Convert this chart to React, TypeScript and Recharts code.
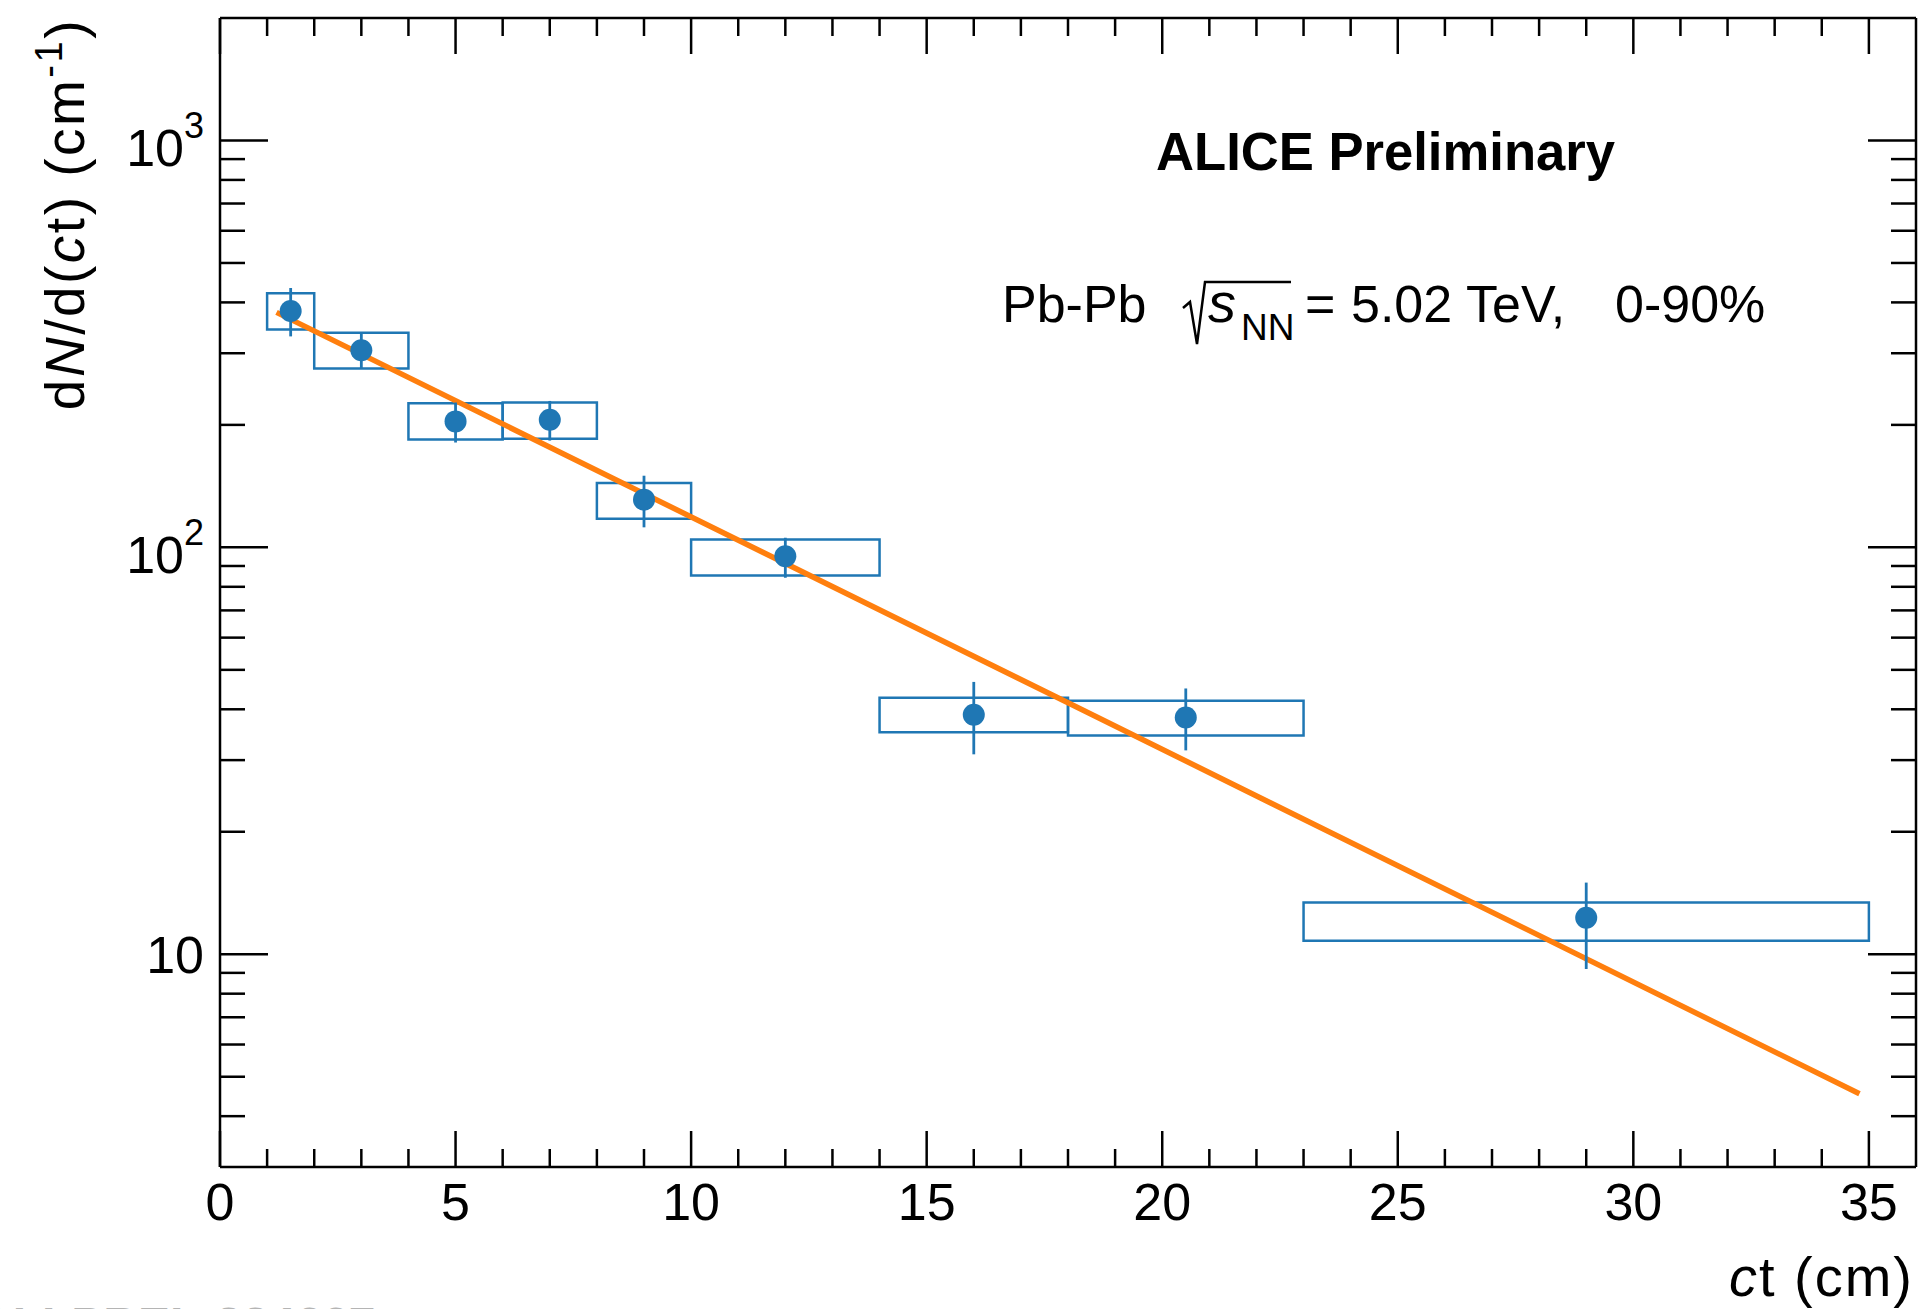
import { ComposedChart, Scatter, Line, XAxis, YAxis, ErrorBar, ReferenceArea } from 'recharts'

// ct bins (cm)
const ctCenters = [1.5, 3, 5, 7, 9, 12, 16, 20.5, 29]
const binLow = [1, 2, 4, 6, 8, 10, 14, 18, 23]
const binHigh = [2, 4, 6, 8, 10, 14, 18, 23, 35]

// dN/d(ct) with stat. bars and syst. boxes (cm^-1)
const yields = [381, 305, 204, 206, 131, 95.1, 38.8, 38.2, 12.3]
const statLow = [330, 276, 181, 183, 112, 84.2, 31.0, 31.7, 9.2]
const statHigh = [434, 335, 227, 229, 150, 105.6, 46.7, 45.0, 15.0]
const systLow = [343, 275, 184, 185, 117.5, 85.3, 35.1, 34.5, 10.8]
const systHigh = [421, 337, 226, 227, 144, 104.5, 42.7, 42.0, 13.4]

// exponential fit
const fitCt = [1.2, 18, 34.8]
const fitValues = [378, 41.5, 4.54]

// axis ticks
const xTicks = [0, 1, 2, 3, 4, 5, 6, 7, 8, 9, 10, 11, 12, 13, 14, 15, 16, 17, 18, 19, 20, 21, 22, 23, 24, 25, 26, 27, 28, 29, 30, 31, 32, 33, 34, 35]
const xMajor = [0, 5, 10, 15, 20, 25, 30, 35]
const yTicks = [4, 5, 6, 7, 8, 9, 10, 20, 30, 40, 50, 60, 70, 80, 90, 100, 200, 300, 400, 500, 600, 700, 800, 900, 1000]
const yMajor = [10, 100, 1000]
const yLabelBase = ['10', '10', '10']
const yLabelExp = ['', '2', '3']

const FONT = "'Liberation Sans', Arial, Helvetica, sans-serif"
const BLUE = '#1f77b4'
const ORANGE = '#ff7f0e'
const TICK_W = 2.5

const points = ctCenters.map((x, i) => ({
  x,
  y: yields[i],
  err: [yields[i] - statLow[i], statHigh[i] - yields[i]],
}))

const fit = fitCt.map((x, i) => ({ x, y: fitValues[i] }))

const bottomTick = (props: any) => {
  const { x, y, payload } = props
  const major = xMajor.includes(payload.value)
  return (
    <g>
      <line x1={x} x2={x} y1={y} y2={y - (major ? 36 : 18)} stroke="#000" strokeWidth={TICK_W} />
      {major && (
        <text x={x} y={y + 53} textAnchor="middle" fontSize={52} fill="#000" fontFamily={FONT}>
          {payload.value}
        </text>
      )}
    </g>
  )
}

const topTick = (props: any) => {
  const { x, y, payload } = props
  const major = xMajor.includes(payload.value)
  return <line x1={x} x2={x} y1={y} y2={y + (major ? 36 : 18)} stroke="#000" strokeWidth={TICK_W} />
}

const leftTick = (props: any) => {
  const { x, y, payload } = props
  const idx = yMajor.indexOf(payload.value)
  const major = idx >= 0
  return (
    <g>
      <line x1={x} x2={x + (major ? 48 : 25)} y1={y} y2={y} stroke="#000" strokeWidth={TICK_W} />
      {major && (
        <text
          x={x - 16}
          y={y + (yLabelExp[idx] ? 26 : 19)}
          textAnchor="end"
          fontSize={52}
          fill="#000"
          fontFamily={FONT}
        >
          {yLabelBase[idx]}
          {yLabelExp[idx] && (
            <tspan dy={-28} fontSize={36}>
              {yLabelExp[idx]}
            </tspan>
          )}
        </text>
      )}
    </g>
  )
}

const rightTick = (props: any) => {
  const { x, y, payload } = props
  const major = yMajor.includes(payload.value)
  return <line x1={x} x2={x - (major ? 48 : 25)} y1={y} y2={y} stroke="#000" strokeWidth={TICK_W} />
}

const dot = (props: any) => <circle cx={props.cx} cy={props.cy} r={11} fill={BLUE} />

export default function App() {
  const axisLine = { stroke: '#000', strokeWidth: TICK_W }
  return (
    <div style={{ position: 'absolute', left: 0, top: 0, width: 1922, height: 1309, background: '#fff', fontFamily: FONT }}>
      <ComposedChart width={1922} height={1309} margin={{ top: 17, right: 5, bottom: 0, left: 0 }}>
        <XAxis
          dataKey="x"
          type="number"
          domain={[0, 36]}
          allowDataOverflow
          ticks={xTicks}
          interval={0}
          height={142}
          tickSize={0}
          tickMargin={0}
          tickLine={false}
          axisLine={axisLine}
          tick={bottomTick}
        />
        <XAxis
          xAxisId="top"
          orientation="top"
          dataKey="x"
          type="number"
          domain={[0, 36]}
          allowDataOverflow
          ticks={xTicks}
          interval={0}
          height={1}
          tickSize={0}
          tickMargin={0}
          tickLine={false}
          axisLine={axisLine}
          tick={topTick}
        />
        <YAxis
          dataKey="y"
          type="number"
          scale="log"
          domain={[3, 2000]}
          allowDataOverflow
          ticks={yTicks}
          interval={0}
          width={220}
          tickSize={0}
          tickMargin={0}
          tickLine={false}
          axisLine={axisLine}
          tick={leftTick}
        />
        <YAxis
          yAxisId="right"
          orientation="right"
          dataKey="y"
          type="number"
          scale="log"
          domain={[3, 2000]}
          allowDataOverflow
          ticks={yTicks}
          interval={0}
          width={1}
          tickSize={0}
          tickMargin={0}
          tickLine={false}
          axisLine={axisLine}
          tick={rightTick}
        />
        {binLow.map((lo, i) => (
          <ReferenceArea
            key={i}
            x1={lo}
            x2={binHigh[i]}
            y1={systLow[i]}
            y2={systHigh[i]}
            fill="none"
            fillOpacity={0}
            stroke={BLUE}
            strokeWidth={2.5}
            ifOverflow="visible"
          />
        ))}
        <Line
          data={fit}
          dataKey="y"
          type="linear"
          stroke={ORANGE}
          strokeWidth={5.5}
          dot={false}
          activeDot={false}
          isAnimationActive={false}
        />
        <Scatter data={points} dataKey="y" fill={BLUE} shape={dot} isAnimationActive={false}>
          <ErrorBar dataKey="err" direction="y" width={0} stroke={BLUE} strokeWidth={2.8} />
        </Scatter>
      </ComposedChart>

      <svg
        width={1922}
        height={1309}
        style={{ position: 'absolute', left: 0, top: 0, pointerEvents: 'none' }}
        fontFamily={FONT}
      >
        <text x={1156} y={170} fontSize={54} fontWeight="bold" fill="#000" textLength={459} lengthAdjust="spacingAndGlyphs">
          ALICE Preliminary
        </text>

        <text y={322} fontSize={52} fill="#000">
          <tspan x={1002}>Pb-Pb</tspan>
          <tspan x={1208} fontSize={56} fontStyle="italic">s</tspan>
          <tspan x={1241} y={340} fontSize={37}>NN</tspan>
          <tspan x={1305} y={322}>=</tspan>
          <tspan x={1351}>5.02</tspan>
          <tspan x={1466}>TeV,</tspan>
          <tspan x={1615}>0-90%</tspan>
        </text>
        <path d="M1183,308 L1190,302 L1197,344 L1205,282 L1291,282" fill="none" stroke="#000" strokeWidth={2.5} />

        <text
          transform="translate(84,18) rotate(-90)"
          textAnchor="end"
          fontSize={55}
          fill="#000"
          letterSpacing={2.5}
        >
          d<tspan fontStyle="italic">N</tspan>/d(<tspan fontStyle="italic">c</tspan>t) (cm
          <tspan dy={-22} fontSize={38}>-1</tspan>
          <tspan dy={22}>)</tspan>
        </text>

        <text x={1914} y={1296} textAnchor="end" fontSize={56} fill="#000" letterSpacing={2}>
          <tspan fontStyle="italic">c</tspan>t (cm)
        </text>

        <text x={-22} y={1341} fontSize={48} fontWeight="bold" fill="#b4b4b4">
          ALI-PREL-224667
        </text>
      </svg>
    </div>
  )
}
